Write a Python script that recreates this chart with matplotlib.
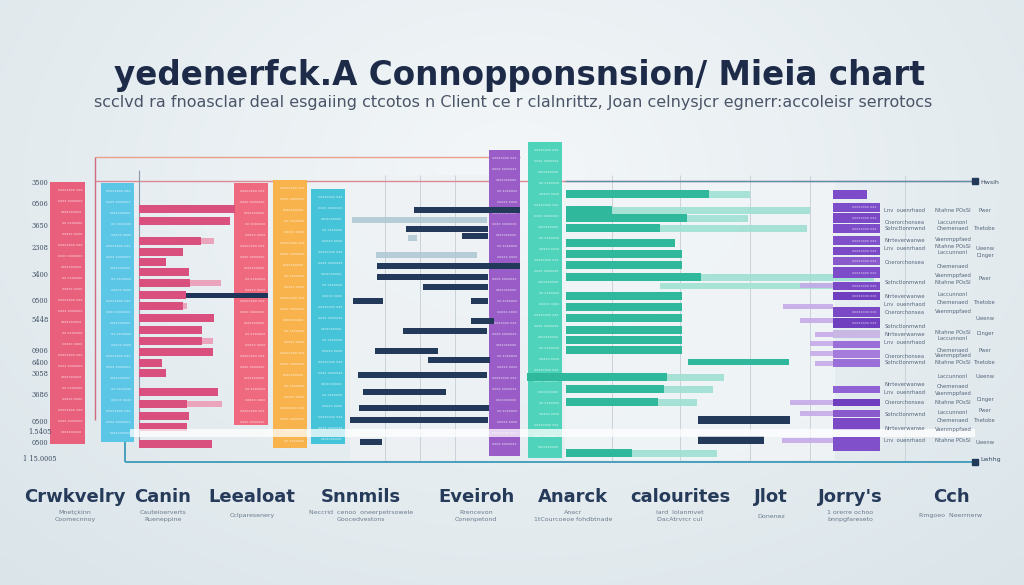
import numpy as np
import matplotlib
matplotlib.use("Agg")
import matplotlib.pyplot as plt

# ---------------- data ----------------
title = "yedenerfck.A Connopponsnsion/ Mieia chart"
subtitle = ("scclvd ra fnoasclar deal esgaiing ctcotos n Client ce r clalnrittz, "
            "Joan celnysjcr egnerr:accoleisr serrotocs")
categories = ["Crwkvelry", "Canin", "Leealoat", "Snnmils", "Eveiroh",
              "Anarck", "calourites", "Jlot", "Jorry's", "Cch"]
category_notes = ["Mnetçkinn\nCoomecnnoy", "Cauteioerverts\nRueneppine", "Cclparesenery",
                  "Neccrid  cenoo  oneerpetrsowele\nGoocedvestons", "Rrencevon\nConenpetond",
                  "Anacr\n1tCourcoeoe fohdbtnade", "lard  lolanmvet\nDacAtrvrcr cul",
                  "Donenez", "1 orerre ochoo\nbnnpgfareseto", "Rmgoeo  Neerrnerw"]
y_tick_labels = ["3500", "0506", "3650", "2308", "3400", "0500", "5448", "0906",
                 "6400", "3058", "3686", "0500", "1.5405", "0500", "1 15.0005"]

# tall column blocks (heights)
column_heights = [262, 259, 242, 268, 255, 306, 316]
# pink bar group (lengths)
pink_lengths = [96, 91, 62, 44, 27, 50, 51, 47, 44, 75, 63, 63, 74, 23, 27, 79, 48, 50, 48, 73]
pink_light_lengths = [0, 0, 75, 0, 0, 0, 82, 0, 48, 0, 0, 74, 0, 0, 0, 0, 83, 0, 0, 0]
# navy bar group (lengths)
navy_lengths = [106, 82, 26, 101, 143, 111, 65, 30, 17, 84, 63, 23, 62, 129, 83, 130, 22, 138]
# teal bar group (lengths)
teal_lengths = [143, 46, 121, 94, 109, 116, 116, 135, 116, 116, 116, 116, 116, 116, 101, 98, 92, 66]
teal_light_lengths = [41, 198, 61, 147, 0, 0, 0, 173, 0, 0, 0, 0, 0, 0, 57, 49, 39, 85]
navy_right_lengths = [92, 66]
# purple block group (lengths)
purple_lengths = [34, 47, 47, 47, 47, 47, 47, 47, 47, 47, 47, 47, 47, 47, 47, 47, 47, 47, 47, 47, 47]
purple_light_lengths = [33, 50, 33, 18, 23, 23, 18, 43, 33, 51]

# ---------------- layout ----------------
W, H = 1024, 585
column_x = [50, 101, 234, 273, 311, 489, 528]
column_w = [35, 33, 34, 34, 34, 31, 34]
column_top = [182, 183, 183, 180, 189, 150, 142]
column_colors = ["#e9607c", "#5cc6e7", "#ef6a7e", "#f8b34c", "#45c3d8", "#9a5dc7", "#4fd4bb"]

pink_rows = [209, 221, 241, 252, 262, 272, 283, 295, 306, 318, 330, 341, 352,
             363, 373, 392, 404, 416, 427, 444]
pink_left = 139
navy_rows = [210, 229, 236, 266, 266, 277, 287, 301, 301, 331, 351, 321,
             360, 375, 392, 408, 442, 420]
navy_left = [414, 406, 462, 377, 377, 377, 423, 353, 471, 403, 375, 471,
             428, 358, 363, 359, 360, 350]
teal_rows = [194, 210, 218, 228, 243, 254, 265, 277, 296, 307, 318, 330,
             340, 350, 377, 389, 402, 453]
teal_left = 566
purple_rows = [194.5, 207.5, 218, 228.5, 240.5, 251, 261, 272.5, 286, 296, 312, 323,
               334, 344.5, 354, 363, 389.5, 402.5, 413.5, 424, 444]
purple_heights = [9, 9, 10, 9, 9, 8, 8, 11, 8, 8, 10, 10, 8, 7, 8, 8, 7, 7, 7, 12, 14]
purple_colors = ["#7d4cc8", "#7d4cc8", "#7b49c6", "#7d4cc8", "#8050ca", "#7b49c6", "#8a5acc",
                 "#7d4cc8", "#7b49c6", "#6f3fbf", "#7b49c6", "#6f3fbf", "#c9b8e4", "#9a6fd8",
                 "#a57bdc", "#9a6fd8", "#8f63d4", "#6f3fbf", "#8a5acc", "#7b49c6", "#8050ca"]
purple_light_rows = [285, 306, 320, 334, 343, 353, 363, 402, 413, 440]
purple_light_left = [800, 783, 800, 815, 810, 810, 815, 790, 800, 782]

fig = plt.figure(figsize=(10.24, 5.85), dpi=100)
ax = fig.add_axes([0, 0, 1, 1])
ax.set_xlim(0, W)
ax.set_ylim(H, 0)
ax.axis("off")

# background gradient
yy, xx = np.mgrid[0:1:240j, 0:1:400j]
t = np.clip(np.sqrt(((xx - 0.5) / 0.75) ** 2 + ((yy - 0.3) / 0.95) ** 2), 0, 1)
c0 = np.array([0.955, 0.968, 0.975])
c1 = np.array([0.855, 0.895, 0.915])
img = c0[None, None, :] * (1 - t[..., None]) + c1[None, None, :] * t[..., None]
ax.imshow(img, extent=[0, W, H, 0], aspect="auto", zorder=0)

# panels
ax.bar(420, 285, width=140, bottom=175, color="#eef2f5", alpha=0.8, zorder=1)
ax.bar(700, 280, width=270, bottom=180, color="#f1f5f7", alpha=0.8, zorder=1)

# grid lines
for gx in [385, 420, 455, 612, 680, 750, 810, 905]:
    ax.vlines(gx, 175, 462, color="#c9d3da", lw=0.7, zorder=1)

# frame lines
ax.hlines(181, 95, 975, color="#d98a96", lw=1.0, zorder=2)
ax.hlines(181, 565, 975, color="#5a8fa8", lw=1.0, zorder=2)
ax.hlines(157, 95, 520, color="#e8a08a", lw=1.0, zorder=2)
ax.vlines(95, 157, 420, color="#d06a80", lw=1.0, zorder=2)
ax.vlines(139, 170, 445, color="#8a98a8", lw=0.8, zorder=2)
ax.hlines(462, 125, 975, color="#4a9fbc", lw=1.4, zorder=2)
ax.vlines(125, 440, 462, color="#4a9fbc", lw=1.4, zorder=2)
ax.plot([975], [181], marker="s", ms=4, color="#22395a", zorder=6)
ax.plot([975], [462], marker="s", ms=4, color="#22395a", zorder=6)
ax.text(980, 183, "Hwsih", fontsize=4.5, color="#3a4a60", va="center", zorder=6)
ax.text(980, 460, "Lwhhg", fontsize=4.5, color="#3a4a60", va="center", zorder=6)

# tall columns
for x, w, top, h, c in zip(column_x, column_w, column_top, column_heights, column_colors):
    ax.bar(x + w / 2, h, width=w, bottom=top, color=c, zorder=3)

# white text texture in columns
texture = ["xxxxxxxx xxx", "xxxx xxxxxxx", "xxxxxxxxxx", "xx xxxxxxx", "xxxxx xxxx"]
for x, w, top, h in zip(column_x, column_w, column_top, column_heights):
    n = int(h // 11)
    for k in range(n):
        ax.text(x + w - 3, top + 8 + k * 11, texture[k % len(texture)], fontsize=2.6,
                color="white", alpha=0.75, ha="right", va="center", zorder=4)

# pink bars
ax.barh(pink_rows, pink_light_lengths, left=pink_left, height=6, color="#eaa5bd", zorder=4)
ax.barh(pink_rows, pink_lengths, left=pink_left, height=7.5, color="#d9507e", zorder=5)
ax.barh(295, 82, left=186, height=5, color="#1f3557", zorder=5)

# navy bars
ax.barh(navy_rows, navy_lengths, left=navy_left, height=6, color="#22395a", zorder=5)
ax.barh([220, 255, 238], [135, 101, 9], left=[352, 376, 408], height=6,
        color="#a8c4d0", alpha=0.8, zorder=4)

# teal bars
ax.barh(teal_rows, teal_light_lengths, left=np.array(teal_left) + np.array(teal_lengths),
        height=7, color="#9fe0d3", alpha=0.9, zorder=4)
ax.barh(teal_rows, teal_lengths, left=teal_left, height=8, color="#2fb89c", zorder=5)
ax.barh(286, 173, left=660, height=6, color="#a8e3d6", zorder=4)
ax.barh(362, 101, left=688, height=6, color="#2fb89c", zorder=5)
ax.barh(377, 98, left=527, height=8, color="#2fb89c", zorder=5)
ax.barh([420, 440], navy_right_lengths, left=698, height=8, color="#22395a", zorder=5)

# purple blocks
ax.barh(purple_light_rows, purple_light_lengths, left=purple_light_left, height=5,
        color="#c4a6e8", alpha=0.85, zorder=4)
ax.barh(purple_rows, purple_lengths, left=833, height=purple_heights,
        color=purple_colors, zorder=5)
for ry in purple_rows[1:12]:
    ax.text(877, ry, "xxxxxxxx xxx", fontsize=2.6, color="white", alpha=0.7,
            ha="right", va="center", zorder=6)

# white translucent band
ax.barh(433, 845, left=130, height=8, color="white", alpha=0.75, zorder=6)

# left tick labels
tick_rows = [183, 204, 226, 248, 275, 301, 320, 351, 363, 374, 395, 422, 432, 443, 459]
for ty, lab in zip(tick_rows, y_tick_labels):
    ax.text(40, ty, lab, fontsize=4.8, color="#3e4d62", ha="center", va="center",
            family="DejaVu Serif", zorder=6)

# right small text columns
colA = [211, 222, 229, 241, 248, 262, 283, 296, 304, 312, 326, 334, 342, 356, 363,
        385, 393, 402, 415, 429, 441]
colB = [210, 222, 229, 239, 247, 253, 267, 275, 283, 295, 303, 311, 332, 338, 350,
        356, 363, 376, 386, 394, 402, 413, 420, 429, 441]
colC = [210, 228, 248, 255, 278, 303, 318, 333, 350, 363, 376, 399, 411, 421, 443]
wordsA = ["Lnv  ouenrhaod", "Onerorchonsea", "Sotnctlonmwnd", "Nrrteverwanwe"]
wordsB = ["Ntahne POsSI", "Laccunnonl", "Chemenaed", "Vaenmppfaed"]
wordsC = ["Pwer", "Tnetobe", "Uwenw", "Dinger"]
for i, ry in enumerate(colA):
    ax.text(905, ry, wordsA[i % 4], fontsize=3.8, color="#55657a", ha="center", va="center", zorder=6)
for i, ry in enumerate(colB):
    ax.text(953, ry, wordsB[i % 4], fontsize=3.8, color="#55657a", ha="center", va="center", zorder=6)
for i, ry in enumerate(colC):
    ax.text(985, ry, wordsC[i % 4], fontsize=3.8, color="#55657a", ha="center", va="center", zorder=6)

# title / subtitle
ax.text(519, 75, title, fontsize=23.5, fontweight="bold", color="#1d2b48",
        ha="center", va="center", zorder=7)
ax.text(513, 103, subtitle, fontsize=11.5, color="#4a5568", ha="center", va="center",
        zorder=7)

# bottom labels
cat_x = [75, 163, 252, 361, 476, 573, 680, 771, 850, 951]
for cx, lab, note in zip(cat_x, categories, category_notes):
    ax.text(cx, 497, lab, fontsize=13, fontweight="bold", color="#263a5a",
            ha="center", va="center", zorder=7)
    ax.text(cx, 516, note, fontsize=4.5, color="#6b7a8c", ha="center", va="center",
            linespacing=1.6, zorder=7)

fig.savefig("out.png", dpi=100)
